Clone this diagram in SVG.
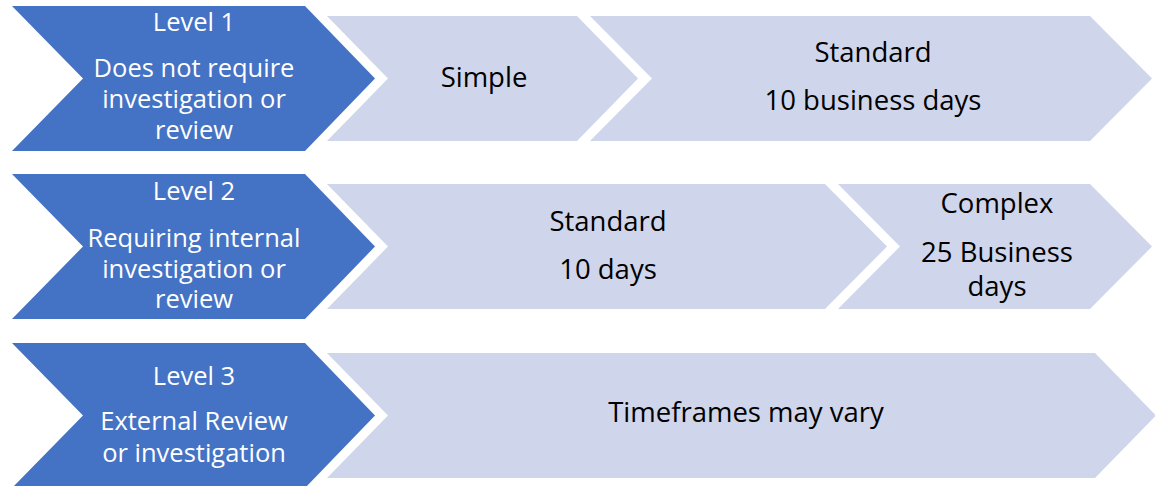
<svg xmlns="http://www.w3.org/2000/svg" width="1155" height="486" viewBox="0 0 1155 486">
<style>
.dk{fill:#4472C4}
.lt{fill:#CFD5EA}
text{font-family:"Open Sans","Noto Sans",sans-serif;font-size:25.5px;text-anchor:middle}
.w{fill:#FFFFFF}
.b{fill:#000000;font-size:27.5px}
</style>
<rect width="1155" height="486" fill="#FFFFFF"/>
<g id="level1">
<polygon class="dk" points="12,6 305,6 375,78.5 305,151 12,151 83,78.5"/>
<text class="w" x="194" y="31">Level 1</text>
<text class="w" x="194" y="77">Does not require</text>
<text class="w" x="194" y="108">investigation or</text>
<text class="w" x="194" y="139">review</text>
</g>
<g id="simple">
<polygon class="lt" points="327,16 577,16 638,78.5 577,141 327,141 388,78.5"/>
<text class="b" x="484" y="87">Simple</text>
</g>
<g id="standard1">
<polygon class="lt" points="590,16 1090,16 1152,78.5 1090,141 590,141 652,78.5"/>
<text class="b" x="873" y="62">Standard</text>
<text class="b" x="873" y="110">10 business days</text>
</g>
<g id="level2">
<polygon class="dk" points="12,174 305,174 375,246.5 305,319 12,319 83,246.5"/>
<text class="w" x="194" y="200">Level 2</text>
<text class="w" x="194" y="247">Requiring internal</text>
<text class="w" x="194" y="278">investigation or</text>
<text class="w" x="194" y="308">review</text>
</g>
<g id="standard2">
<polygon class="lt" points="327,184 825,184 887,246.5 825,309 327,309 388,246.5"/>
<text class="b" x="608" y="231">Standard</text>
<text class="b" x="608" y="279">10 days</text>
</g>
<g id="complex">
<polygon class="lt" points="838,184 1090,184 1152,246.5 1090,309 838,309 900,246.5"/>
<text class="b" x="997" y="213">Complex</text>
<text class="b" x="997" y="262">25 Business</text>
<text class="b" x="997" y="296">days</text>
</g>
<g id="level3">
<polygon class="dk" points="12,343 305,343 375,415.5 305,488 12,488 83,415.5"/>
<text class="w" x="194" y="385">Level 3</text>
<text class="w" x="194" y="430">External Review</text>
<text class="w" x="194" y="462">or investigation</text>
</g>
<g id="timeframes">
<polygon class="lt" points="327,353 1095,353 1156,415.5 1095,478 327,478 388,415.5"/>
<text class="b" x="746" y="422">Timeframes may vary</text>
</g>
<g id="connectors"/>
</svg>
